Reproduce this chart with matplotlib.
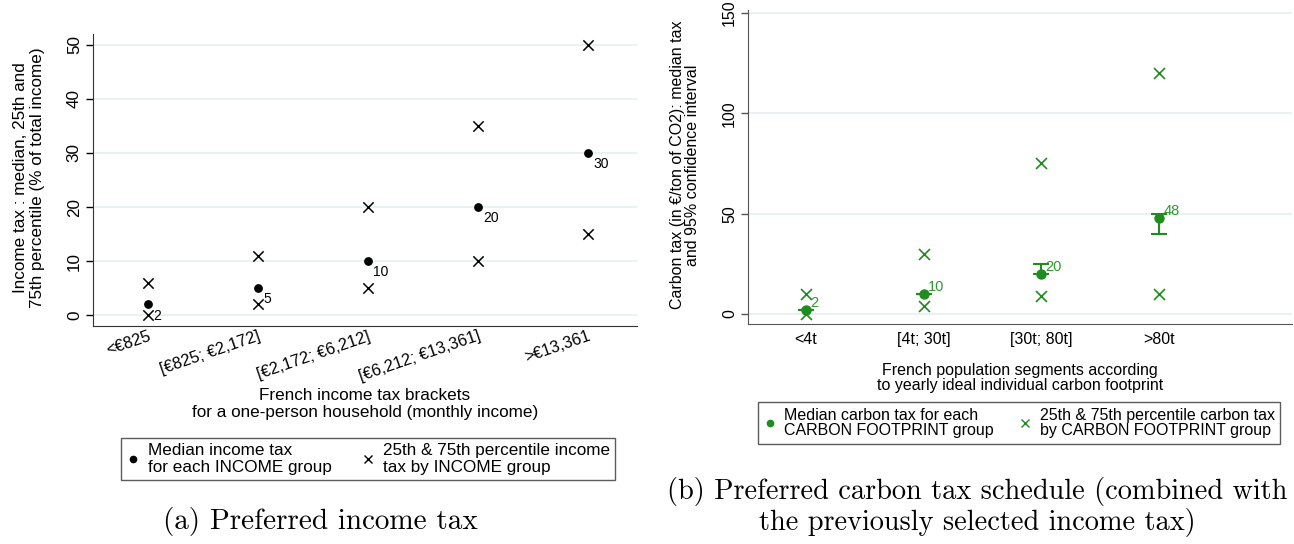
import matplotlib
matplotlib.use("Agg")
import matplotlib.pyplot as plt
from matplotlib.lines import Line2D

# ---- data: income tax panel ----
income_brackets = ["<€825", "[€825; €2,172]", "[€2,172; €6,212]", "[€6,212; €13,361]", ">€13,361"]
income_median = [2, 5, 10, 20, 30]
income_p25 = [0, 2, 5, 10, 15]
income_p75 = [6, 11, 20, 35, 50]

# ---- data: carbon tax panel ----
carbon_groups = ["<4t", "[4t; 30t]", "[30t; 80t]", ">80t"]
carbon_median = [2, 10, 20, 48]
carbon_ci_low = [2, 10, 20, 40]
carbon_ci_high = [2, 10, 25, 50]
carbon_p25 = [0, 4, 9, 10]
carbon_p75 = [10, 30, 75, 120]

plt.rcParams['font.family'] = ['Liberation Sans', 'DejaVu Sans']
GREEN = '#1e8c1e'
GRID = '#e6eff1'
FS_L = 12.3
FS_R = 11.5

fig = plt.figure(figsize=(12.94, 5.44), dpi=100)
W, H = 1294, 544

def ax_rect(l, t, r, b):
    return [l / W, 1 - b / H, (r - l) / W, (b - t) / H]

# ---------------- left panel ----------------
ax1 = fig.add_axes(ax_rect(93, 34, 637, 326))
xs1 = list(range(1, len(income_brackets) + 1))
ax1.scatter(xs1, income_p25, marker='x', s=55, color='black', linewidths=1.1, zorder=3)
ax1.scatter(xs1, income_p75, marker='x', s=55, color='black', linewidths=1.1, zorder=3)
ax1.scatter(xs1, income_median, marker='o', s=28, color='black', zorder=4)
for x, v in zip(xs1, income_median):
    ax1.annotate(str(v), (x, v), xytext=(4, -3), textcoords='offset points',
                 ha='left', va='top', fontsize=10)
ax1.set_xlim(0.5, 5.45)
ax1.set_ylim(-2, 52)
ax1.set_yticks([0, 10, 20, 30, 40, 50])
ax1.set_yticklabels(['0', '10', '20', '30', '40', '50'], rotation=90, va='center', fontsize=FS_L)
ax1.set_xticks(xs1)
ax1.set_xticklabels(income_brackets, rotation=19, ha='right', rotation_mode='anchor', fontsize=11.8)
ax1.tick_params(axis='x', length=0, pad=2)
ax1.tick_params(axis='y', length=5, width=1, pad=3)
ax1.grid(axis='y', color=GRID, linewidth=1.2)
ax1.set_axisbelow(True)
for s in ['top', 'right']:
    ax1.spines[s].set_visible(False)
for s in ['left', 'bottom']:
    ax1.spines[s].set_color('#333333')

fig.text(29 / W, 1 - 178 / H, "Income tax : median, 25th and\n75th percentile (% of total income)",
         rotation=90, ha='center', va='center', fontsize=FS_L, multialignment='center', linespacing=1.22)
fig.text(365 / W, 1 - 404 / H, "French income tax brackets\nfor a one-person household (monthly income)",
         ha='center', va='center', fontsize=FS_L, multialignment='center', linespacing=1.25)

h1 = [Line2D([], [], marker='o', color='black', linestyle='none', markersize=4.5),
      Line2D([], [], marker='x', color='black', linestyle='none', markersize=6, markeredgewidth=1)]
leg1 = fig.legend(h1, ["Median income tax\nfor each INCOME group",
                       "25th & 75th percentile income\ntax by INCOME group"],
                  loc='center', bbox_to_anchor=(368 / W, 1 - 459 / H), ncol=2, fontsize=FS_L,
                  frameon=True, fancybox=False, edgecolor='#333333', handlelength=0.8,
                  handletextpad=0.5, columnspacing=1.7, borderpad=0.3, labelspacing=0.2)
leg1.get_frame().set_linewidth(1.0)
for t in leg1.get_texts():
    t.set_linespacing(1.1)

fig.text(320 / W, 1 - 522 / H, "(a) Preferred income tax", family='cmr10',
         ha='center', va='center', fontsize=21)

# ---------------- right panel ----------------
ax2 = fig.add_axes(ax_rect(748, 10, 1292, 324))
xs2 = list(range(1, len(carbon_groups) + 1))
ax2.scatter(xs2, carbon_p25, marker='x', s=62, color=GREEN, linewidths=1.2, zorder=3)
ax2.scatter(xs2, carbon_p75, marker='x', s=62, color=GREEN, linewidths=1.2, zorder=3)
yerr = [[m - lo for m, lo in zip(carbon_median, carbon_ci_low)],
        [hi - m for m, hi in zip(carbon_median, carbon_ci_high)]]
ax2.errorbar(xs2, carbon_median, yerr=yerr, fmt='none', ecolor=GREEN, elinewidth=1.5,
             capsize=6, capthick=1.5, zorder=4)
ax2.scatter(xs2, carbon_median, marker='o', s=42, color=GREEN, zorder=5)
for x, v in zip(xs2, carbon_median):
    ax2.annotate(str(v), (x, v), xytext=(3, 0), textcoords='offset points',
                 ha='left', va='bottom', fontsize=10.5, color='#2f9a2f')
ax2.set_xlim(0.507, 5.13)
ax2.set_ylim(-5, 151.5)
ax2.set_yticks([0, 50, 100, 150])
ax2.set_yticklabels(['0', '50', '100', '150'], rotation=90, va='center', fontsize=FS_R)
ax2.set_xticks(xs2)
ax2.set_xticklabels(carbon_groups, fontsize=FS_R)
ax2.tick_params(axis='x', length=0, pad=6)
ax2.tick_params(axis='y', length=5, width=1, pad=3, color='#555555')
ax2.grid(axis='y', color=GRID, linewidth=1.2)
ax2.set_axisbelow(True)
for s in ['top', 'right']:
    ax2.spines[s].set_visible(False)
for s in ['left', 'bottom']:
    ax2.spines[s].set_color('#555555')

fig.text(685 / W, 1 - 165 / H, "Carbon tax (in €/ton of CO2): median tax\nand 95% confidence interval",
         rotation=90, ha='center', va='center', fontsize=FS_R, multialignment='center', linespacing=1.08)
fig.text(1020 / W, 1 - 378 / H, "French population segments according\nto yearly ideal individual carbon footprint",
         ha='center', va='center', fontsize=FS_R, multialignment='center', linespacing=1.08)

h2 = [Line2D([], [], marker='o', color=GREEN, linestyle='none', markersize=4.5),
      Line2D([], [], marker='x', color=GREEN, linestyle='none', markersize=6, markeredgewidth=1)]
leg2 = fig.legend(h2, ["Median carbon tax for each\nCARBON FOOTPRINT group",
                       "25th & 75th percentile carbon tax\nby CARBON FOOTPRINT group"],
                  loc='center', bbox_to_anchor=(1019 / W, 1 - 423 / H), ncol=2, fontsize=FS_R,
                  frameon=True, fancybox=False, edgecolor='#333333', handlelength=0.8,
                  handletextpad=0.5, columnspacing=1.6, borderpad=0.35, labelspacing=0.2)
leg2.get_frame().set_linewidth(1.0)
for t in leg2.get_texts():
    t.set_linespacing(1.05)

fig.text(977 / W, 1 - 507 / H, "(b) Preferred carbon tax schedule (combined with\nthe previously selected income tax)",
         family='cmr10', ha='center', va='center', fontsize=20.4, multialignment='center', linespacing=1.05)

fig.savefig("out.png", dpi=100, facecolor='white')
